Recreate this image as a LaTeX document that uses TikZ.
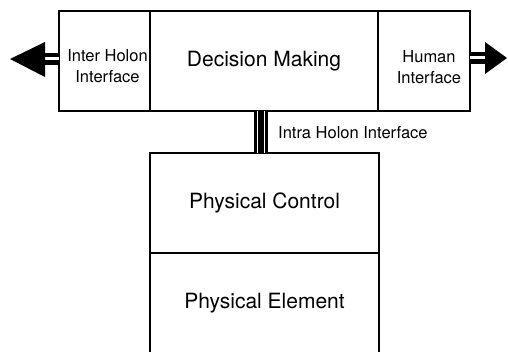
\documentclass[tikz,border=0pt]{standalone}
\usepackage{fontspec}
\setmainfont{TeX Gyre Heros}
\begin{document}
\begin{tikzpicture}[x=1pt,y=-1pt,
  cell/.style={draw, line width=1.6pt, inner sep=0pt, outer sep=0pt, align=center},
  small/.style={font=\fontsize{16.5}{20.5}\selectfont},
  big/.style={font=\fontsize{21}{25}\selectfont},
  txt/.style={inner sep=0pt, align=center},
  shaft/.style={draw, line width=4.5pt, double, double distance=3pt},
  head/.style={fill=black}]
\useasboundingbox (0,0) rectangle (508,352);
% holon top row
\node[cell, minimum width=91pt, minimum height=100pt] (inter) at (104.5,61) {};
\node[cell, big, minimum width=228pt, minimum height=100pt] (decide) at (264,61) {\raisebox{4pt}{Decision Making}};
\node[cell, minimum width=92pt, minimum height=100pt] (human) at (424,61) {};
\node[txt, small] (intertext) at (107.5,66) {Inter Holon\\Interface};
\node[txt, small] (humantext) at (429,67) {Human\\Interface};
% physical part
\node[cell, big, minimum width=229pt, minimum height=100pt] (control) at (264.5,203) {Physical Control};
\node[cell, big, minimum width=229pt, minimum height=100pt] (element) at (264.5,303) {Physical Element};
% outward arrows
\coordinate (ltip) at (10,59);
\coordinate (rtip) at (507,58);
\draw[shaft] (inter.west |- ltip) -- ([xshift=35pt]ltip);
\fill[head] (ltip) -- ++(35,-17) -- ++(0,35) -- cycle;
\draw[shaft] (human.east |- rtip) -- ([xshift=-22pt]rtip);
\fill[head] (rtip) -- ++(-22,-16) -- ++(0,32) -- cycle;
% intra holon link
\coordinate (ia) at (260.6,111);
\coordinate (ib) at (260.6,153);
\draw[line width=14pt] (ia) -- (ib);
\draw[white, line width=1.1pt] ([xshift=-3.4pt]ia) -- ([xshift=-3.4pt]ib);
\draw[white, line width=1.1pt] ([xshift=3.6pt]ia) -- ([xshift=3.6pt]ib);
\node[small, anchor=west, inner sep=0pt] (intra) at (278,132.5) {Intra Holon Interface};
\end{tikzpicture}
\end{document}
